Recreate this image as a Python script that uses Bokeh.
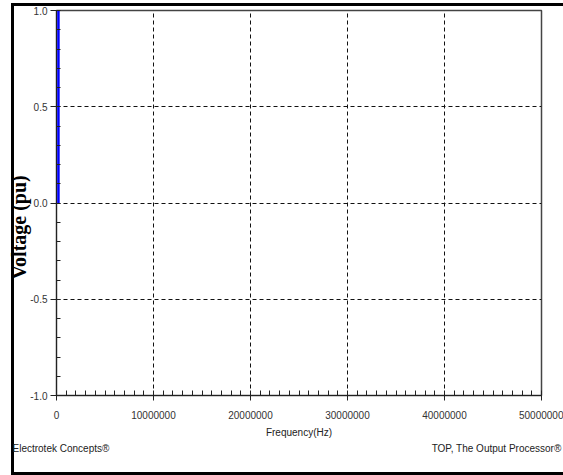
import numpy as np
from bokeh.plotting import figure
from bokeh.models import (Range1d, SingleIntervalTicker, NumeralTickFormatter, Title)
from bokeh.embed import file_html
from bokeh.resources import INLINE

# ---- data ----
freq_hz = [200000.0, 200000.0]
voltage_pu = [0.0, 1.0]
x_limits = [0.0, 50000000.0]
y_limits = [-1.0, 1.0]
x_tick_step = 10000000.0
y_tick_step = 0.5

p = figure(width=563, height=475, output_backend="svg", toolbar_location=None,
           title=None,
           x_range=Range1d(*x_limits), y_range=Range1d(*y_limits),
           min_border_left=56, min_border_right=22, min_border_top=10,
           min_border_bottom=80)
# black page frame (left, top, bottom) painted behind a transparent border area
p.styles = {
    "background-color": "white",
    "background-image": "linear-gradient(black, black), linear-gradient(black, black), linear-gradient(black, black)",
    "background-size": "3px 472px, 552px 3px, 552px 3px",
    "background-position": "11px 3px, 11px 3px, 11px 472px",
    "background-repeat": "no-repeat",
}
p.background_fill_color = "white"
p.border_fill_alpha = 0.0
p.outline_line_color = "#444444"
p.outline_line_width = 1.5

p.line(freq_hz, voltage_pu, line_color="#0000ff", line_width=2.5)

# axes
tick_font = "Liberation Sans"
p.xaxis.ticker = SingleIntervalTicker(interval=x_tick_step, num_minor_ticks=10)
p.xaxis.formatter = NumeralTickFormatter(format="0")
p.yaxis.ticker = SingleIntervalTicker(interval=y_tick_step, num_minor_ticks=5)
p.yaxis.formatter = NumeralTickFormatter(format="0.0")
for ax in (p.xaxis, p.yaxis):
    ax.axis_line_color = "#222222"
    ax.major_tick_line_color = "#222222"
    ax.minor_tick_line_color = "#222222"
    ax.major_tick_in = 0
    ax.minor_tick_out = 0
    ax.major_label_text_font = tick_font
    ax.major_label_text_color = "#333333"
p.xaxis.major_tick_out = 5
p.xaxis.minor_tick_in = 5
p.xaxis.major_label_standoff = 10
p.xaxis.major_label_text_font_size = "10px"
p.yaxis.major_tick_out = 6
p.yaxis.minor_tick_in = 4
p.yaxis.major_label_standoff = 3
p.yaxis.major_label_text_font_size = "10px"

p.xaxis.axis_label = "Frequency(Hz)"
p.xaxis.axis_label_text_font = "Liberation Sans"
p.xaxis.axis_label_text_font_size = "10px"
p.xaxis.axis_label_text_font_style = "normal"
p.xaxis.axis_label_text_color = "#222222"
p.xaxis.axis_label_standoff = 5

for g in (p.xgrid, p.ygrid):
    g.grid_line_color = "#111111"
    g.grid_line_dash = "4 3"
    g.grid_line_width = 1

# vertical title on the left
p.add_layout(Title(text="Voltage (pu)", align="left", offset=116, standoff=-5,
                   text_font="Liberation Serif", text_font_style="bold",
                   text_font_size="20px", text_color="black"), "left")

# footer line
footer = "Electrotek Concepts®" + "\u00a0" * 116 + "TOP, The Output Processor®"
p.add_layout(Title(text=footer, align="left", offset=-44, standoff=0,
                   text_font="Liberation Sans", text_font_style="normal",
                   text_font_size="10px", text_color="#222222"), "below")

open("out.html", "w").write(file_html(p, INLINE))
